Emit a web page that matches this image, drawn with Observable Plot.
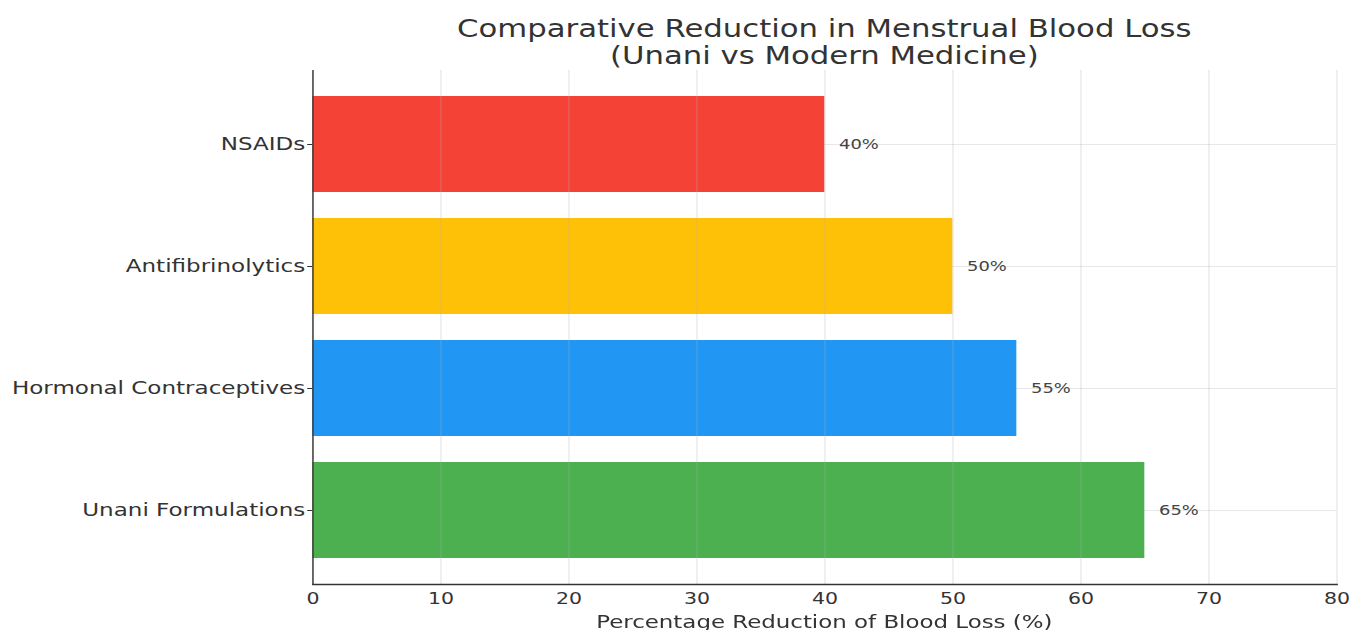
<!DOCTYPE html>
<html>
<head>
<meta charset="utf-8">
<script src="https://cdn.jsdelivr.net/npm/d3@7"></script>
<script src="https://cdn.jsdelivr.net/npm/@observablehq/plot@0.6"></script>
<style>
  html, body { margin: 0; padding: 0; background: #fff; overflow: hidden; }
  #wrap {
    position: relative; width: 1055px; height: 630px;
    transform: scaleX(1.28); transform-origin: 0 0;
    font-family: "DejaVu Sans", sans-serif; color: #333;
  }
  #title {
    position: absolute; left: 244px; width: 800px; top: 16px;
    text-align: center; font-size: 24px; line-height: 27px; color: #333;
  }
  #xlabel {
    position: absolute; left: 244px; width: 800px; top: 612px;
    text-align: center; font-size: 17.9px; line-height: 20px; color: #333;
  }
  #chart { position: absolute; left: 0; top: 0; }
</style>
</head>
<body>
<div id="wrap">
  <div id="chart"></div>
  <div id="title">Comparative Reduction in Menstrual Blood Loss<br>(Unani vs Modern Medicine)</div>
  <div id="xlabel">Percentage Reduction of Blood Loss (%)</div>
</div>
<script>
const categories = ["NSAIDs", "Antifibrinolytics", "Hormonal Contraceptives", "Unani Formulations"];
const values = [40, 50, 55, 65];
const colors = ["#F44336", "#FFC107", "#2196F3", "#4CAF50"];
const xTicks = [0, 10, 20, 30, 40, 50, 60, 70, 80];

const data = categories.map((c, i) => ({name: c, value: values[i]}));

const chart = Plot.plot({
  width: 1055,
  height: 630,
  marginLeft: 244,
  marginRight: 11,
  marginTop: 70,
  marginBottom: 46,
  style: {fontFamily: "DejaVu Sans", color: "#333", background: "#fff"},
  x: {domain: [0, 80], ticks: xTicks, label: null},
  y: {domain: categories, paddingInner: 0.21, paddingOuter: 0.2, label: null},
  color: {domain: categories, range: colors},
  marks: [
    Plot.gridY({stroke: "#b0b0b0", strokeOpacity: 0.3}),
    Plot.barX(data, {x: "value", y: "name", fill: "name"}),
    Plot.gridX(xTicks, {stroke: "#b0b0b0", strokeOpacity: 0.3}),
    Plot.text(data, {x: "value", y: "name", text: d => d.value + "%", dx: 11, textAnchor: "start", fontSize: 14, fill: "#444"}),
    Plot.axisX(xTicks, {tickSize: 0, tickPadding: 8, fontSize: 16, label: null}),
    Plot.axisY({tickSize: 4, tickPadding: 2, fontSize: 18, label: null}),
    Plot.ruleX([0], {stroke: "#333", strokeWidth: 1.1}),
    Plot.frame({anchor: "bottom", stroke: "#333", strokeWidth: 1.4})
  ]
});
document.getElementById("chart").appendChild(chart);
</script>
</body>
</html>
